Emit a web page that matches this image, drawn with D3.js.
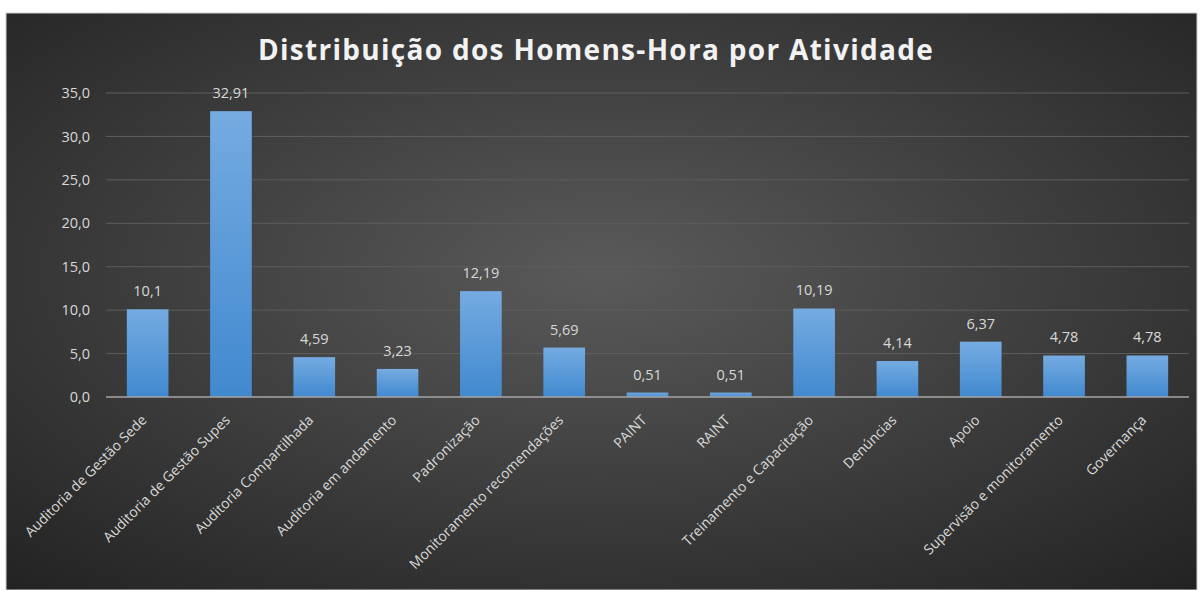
<!DOCTYPE html>
<html>
<head>
<meta charset="utf-8">
<script src="https://cdn.jsdelivr.net/npm/d3@7"></script>
<style>
    body { margin: 0; background: #ffffff; }
    svg text { font-family: "Open Sans", "Noto Sans", sans-serif; }
</style>
</head>
<body>
<div id="chart"></div>
<script>
// chart data
const categories = [
    "Auditoria de Gestão Sede",
    "Auditoria de Gestão Supes",
    "Auditoria Compartilhada",
    "Auditoria em andamento",
    "Padronização",
    "Monitoramento recomendações",
    "PAINT",
    "RAINT",
    "Treinamento e Capacitação",
    "Denúncias",
    "Apoio",
    "Supervisão e monitoramento",
    "Governança"
];
const values = [10.1, 32.91, 4.59, 3.23, 12.19, 5.69, 0.51, 0.51, 10.19, 4.14, 6.37, 4.78, 4.78];
const valueLabels = ["10,1", "32,91", "4,59", "3,23", "12,19", "5,69", "0,51", "0,51", "10,19", "4,14", "6,37", "4,78", "4,78"];
const yTicks = [0, 5, 10, 15, 20, 25, 30, 35];
const title = "Distribuição dos Homens-Hora por Atividade";

const width = 1203, height = 590;
const frame = { x: 6, y: 13, w: 1191, h: 577 };
const margin = { top: 93, right: 8, bottom: 193, left: 106 };

const svg = d3.select("#chart")
    .append("svg")
    .attr("width", width)
    .attr("height", height);

const defs = svg.append("defs");
const bg = defs.append("radialGradient")
    .attr("id", "bg")
    .attr("cx", "0.5").attr("cy", "0.45").attr("r", "0.75");
bg.append("stop").attr("offset", "0%").attr("stop-color", "#5a5a5a");
bg.append("stop").attr("offset", "100%").attr("stop-color", "#222222");

const barGrad = defs.append("linearGradient")
    .attr("id", "barGrad")
    .attr("x1", 0).attr("y1", 0).attr("x2", 0).attr("y2", 1);
barGrad.append("stop").attr("offset", "0%").attr("stop-color", "#75abe1");
barGrad.append("stop").attr("offset", "100%").attr("stop-color", "#4189cf");

svg.append("rect")
    .attr("x", frame.x).attr("y", frame.y)
    .attr("width", frame.w).attr("height", frame.h)
    .attr("fill", "url(#bg)")
    .attr("stroke", "#d0d0d0")
    .attr("stroke-width", 1);

const innerW = frame.x + frame.w - margin.right - margin.left;
const innerH = height - margin.bottom - margin.top;

const x = d3.scaleBand()
    .domain(categories)
    .range([margin.left, margin.left + innerW])
    .paddingInner(0.5)
    .paddingOuter(0.25);

const y = d3.scaleLinear()
    .domain([0, 35])
    .range([margin.top + innerH, margin.top]);

// gridlines
svg.append("g")
    .selectAll("line")
    .data(yTicks.filter(d => d > 0))
    .join("line")
    .attr("x1", margin.left)
    .attr("x2", margin.left + innerW)
    .attr("y1", d => y(d))
    .attr("y2", d => y(d))
    .attr("stroke", "#5e5e5e")
    .attr("stroke-width", 1);

// y axis labels
const yAxis = d3.axisLeft(y)
    .tickValues(yTicks)
    .tickSize(0)
    .tickPadding(16)
    .tickFormat(d => d3.format(".1f")(d).replace(".", ","));
svg.append("g")
    .attr("transform", `translate(${margin.left},0)`)
    .call(yAxis)
    .call(g => g.select(".domain").remove())
    .selectAll("text")
    .attr("fill", "#d9d9d9")
    .attr("font-size", "14.5px");

// bars
svg.append("g")
    .selectAll("rect")
    .data(values)
    .join("rect")
    .attr("x", (d, i) => x(categories[i]))
    .attr("y", d => y(d))
    .attr("width", x.bandwidth())
    .attr("height", d => y(0) - y(d))
    .attr("fill", "url(#barGrad)");

// value labels
svg.append("g")
    .selectAll("text")
    .data(values)
    .join("text")
    .attr("x", (d, i) => x(categories[i]) + x.bandwidth() / 2)
    .attr("y", d => y(d) - 13)
    .attr("text-anchor", "middle")
    .attr("fill", "#d9d9d9")
    .attr("font-size", "14.5px")
    .text((d, i) => valueLabels[i]);

// baseline
svg.append("line")
    .attr("x1", margin.left)
    .attr("x2", margin.left + innerW)
    .attr("y1", y(0))
    .attr("y2", y(0))
    .attr("stroke", "#a6a6a6")
    .attr("stroke-width", 1.5);

// category labels
const xAxis = d3.axisBottom(x).tickSize(0).tickPadding(0);
svg.append("g")
    .attr("transform", `translate(0,${y(0)})`)
    .call(xAxis)
    .call(g => g.select(".domain").remove())
    .selectAll("text")
    .attr("fill", "#d9d9d9")
    .attr("font-size", "14px")
    .attr("text-anchor", "end")
    .attr("dy", "0")
    .attr("transform", "translate(0,24) rotate(-45)");

svg.append("text")
    .attr("x", 596)
    .attr("y", 60)
    .attr("text-anchor", "middle")
    .attr("fill", "#f2f2f2")
    .attr("font-size", "28px")
    .attr("font-weight", "bold")
    .attr("letter-spacing", "1.3px")
    .text(title);
</script>
</body>
</html>
